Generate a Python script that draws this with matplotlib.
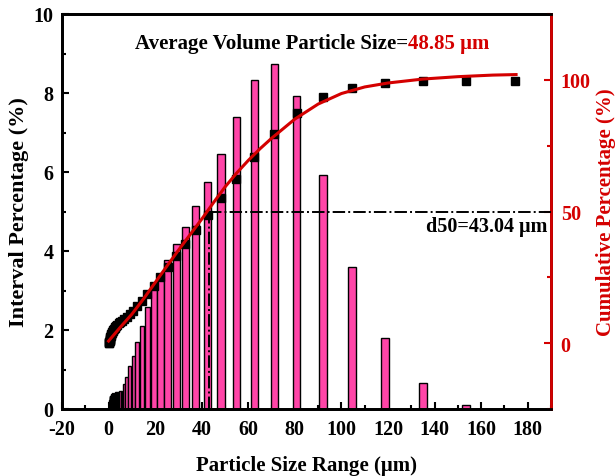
import numpy as np
import matplotlib.pyplot as plt
from matplotlib.ticker import MultipleLocator

# particle size bins (um) and interval percentage (%)
sizes = [0.20, 0.25, 0.30, 0.35, 0.40, 0.45, 0.50, 0.60, 0.70, 0.80, 0.90, 1.05,
         1.20, 1.35, 1.55, 1.75, 2.00, 2.25, 2.55, 2.90, 3.30, 3.80, 4.30, 4.90,
         5.6, 6.6, 7.7, 9.0, 10.6, 12.3, 14.3, 16.7, 19.4, 22.3, 25.4, 29.1,
         33.0, 37.4, 42.6, 48.3, 54.9, 62.6, 71.2, 80.8, 92.0, 104.6, 118.7,
         135.0, 153.5, 174.4]
interval = [0.05, 0.10, 0.15, 0.20, 0.24, 0.28, 0.30, 0.32, 0.33, 0.34, 0.35, 0.36,
            0.37, 0.38, 0.39, 0.40, 0.40, 0.41, 0.41, 0.42, 0.42, 0.43, 0.44, 0.45,
            0.46, 0.63, 0.80, 1.10, 1.35, 1.69, 2.11, 2.57, 3.16, 3.39, 3.77, 4.17,
            4.62, 5.15, 5.75, 6.46, 7.38, 8.34, 8.73, 7.93, 5.93, 3.60, 1.79,
            0.67, 0.11, 0.0]

# fitted cumulative curve
fit_x = [0, 5, 10, 15, 20, 25, 30, 35, 40, 45, 50, 55, 60, 65, 70, 80, 90,
         100, 110, 120, 135, 150, 165, 175]
fit_y = [0.8, 6.0, 11.0, 16.8, 23.0, 29.2, 35.3, 41.2, 47.1, 53.3, 59.3, 64.6,
         69.4, 73.8, 77.8, 85.1, 90.8, 94.8, 97.3, 98.8, 100.3, 101.2, 101.8, 102.0]

d50 = 43.04
avg_size = 48.85

red = '#d40000'
pink = '#ff45a8'

plt.rcParams['font.family'] = 'Liberation Serif'
plt.rcParams['font.weight'] = 'bold'
plt.rcParams['axes.labelweight'] = 'bold'
plt.rcParams['axes.unicode_minus'] = False

fig = plt.figure(figsize=(6.16, 4.77), dpi=100)
ax = fig.add_axes([62 / 616, 1 - 410 / 477, 489 / 616, 395 / 477])

x = np.array(sizes)
gaps = np.diff(x, prepend=x[0] - 0.05)
widths = np.minimum(0.9 * gaps, 3.2)
ax.bar(x, interval, width=widths, color=pink, edgecolor='black', linewidth=1.0, zorder=2)

ax.set_xlim(-20, 190)
ax.set_ylim(0, 10)
ax.xaxis.set_major_locator(MultipleLocator(20))
ax.xaxis.set_minor_locator(MultipleLocator(10))
ax.yaxis.set_major_locator(MultipleLocator(2))
ax.yaxis.set_minor_locator(MultipleLocator(1))
ax.tick_params(which='both', direction='in', width=1.5, labelsize=14.5, top=False)
ax.tick_params(which='major', length=5)
ax.tick_params(which='minor', length=3)
ax.tick_params(axis='x', pad=7)
ax.tick_params(axis='y', pad=6)
for s in ax.spines.values():
    s.set_linewidth(2)
ax.set_xlabel('Particle Size Range (μm)', fontsize=15, labelpad=12)
ax.set_ylabel('Interval Percentage (%)', fontsize=16, labelpad=3)

ax2 = ax.twinx()
cum = np.cumsum(interval)
ax2.plot(sizes, cum, 's', color='black', markersize=6, zorder=3)
ax2.plot(fit_x, fit_y, color=red, linewidth=2.2, zorder=4)
ax2.plot([d50, 190], [50, 50], color='black', linestyle='-.', linewidth=1.4, zorder=3)
ax2.plot([d50, d50], [-25, 50], color='black', linestyle='-.', linewidth=1.4, zorder=3)
ax2.set_ylim(-25, 125)
ax2.set_xlim(-20, 190)
ax2.yaxis.set_major_locator(MultipleLocator(50))
ax2.yaxis.set_minor_locator(MultipleLocator(25))
ax2.tick_params(axis='y', which='both', direction='in', width=1.5, colors=red,
                labelsize=14.5, pad=7)
ax2.tick_params(which='major', length=5)
ax2.tick_params(which='minor', length=3)
for s in ax2.spines.values():
    s.set_linewidth(2)
ax2.spines['right'].set_color(red)
ax2.set_ylabel('Cumulative Percentage (%)', fontsize=15, color=red, labelpad=4)

ax2.text(136.4, 42.6, f'd50={d50} μm', fontsize=14.5, fontweight='bold', va='baseline')
ax.text(0.7076, 0.914, 'Average Volume Particle Size=', transform=ax.transAxes,
        fontsize=15, fontweight='bold', ha='right', va='baseline')
ax.text(0.7076, 0.914, f'{avg_size} μm', transform=ax.transAxes,
        fontsize=15, fontweight='bold', ha='left', va='baseline', color=red)

fig.savefig('out.png', dpi=100)
